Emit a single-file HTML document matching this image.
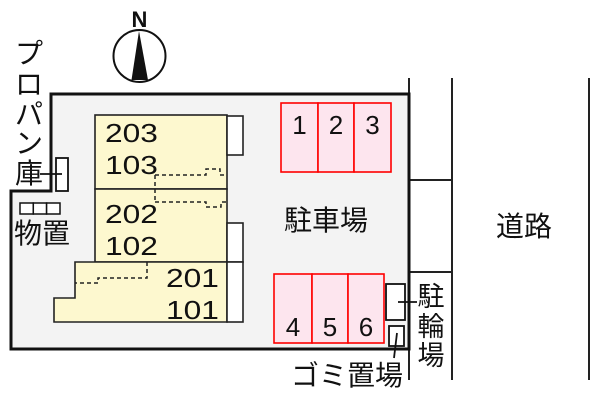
<!DOCTYPE html>
<html><head><meta charset="utf-8">
<style>
html,body{margin:0;padding:0;background:#fff;}
svg{display:block;}
.jp{font-family:"Liberation Sans","Noto Sans CJK JP",sans-serif;font-size:28px;fill:#111;}
.num{font-family:"Liberation Sans",sans-serif;font-size:26px;fill:#111;}
.pn{font-family:"Liberation Sans",sans-serif;font-size:26px;fill:#111;}
</style></head>
<body>
<svg width="600" height="400" viewBox="0 0 600 400" xmlns="http://www.w3.org/2000/svg">
<!-- road lines -->
<g stroke="#222" stroke-width="2" fill="none">
<line x1="409" y1="78" x2="409" y2="380"/>
<line x1="452" y1="78" x2="452" y2="380"/>
<line x1="589" y1="78" x2="589" y2="380"/>
<line x1="409" y1="180" x2="452" y2="180"/>
<line x1="409" y1="272" x2="452" y2="272"/>
</g>
<!-- lot -->
<path d="M409,94 L51,94 L51,191 L11,191 L11,349 L409,349 Z" fill="#f3f3f3" stroke="#111" stroke-width="3"/>
<!-- compass -->
<circle cx="139.5" cy="56" r="26" fill="#fff" stroke="#111" stroke-width="2"/>
<polygon points="139,31 131.5,80 148,80" fill="#111"/>
<text x="139.5" y="27" text-anchor="middle" font-family="Liberation Sans, sans-serif" font-weight="bold" font-size="22" fill="#111">N</text>
<!-- propane -->
<rect x="56" y="158" width="12" height="33" fill="#fff" stroke="#111" stroke-width="1.8"/>
<line x1="40" y1="174" x2="62" y2="174" stroke="#111" stroke-width="1.8"/>
<text class="jp" x="29" y="63" text-anchor="middle">プ</text>
<text class="jp" x="29" y="94" text-anchor="middle">ロ</text>
<text class="jp" x="29" y="124" text-anchor="middle">パ</text>
<text class="jp" x="29" y="153" text-anchor="middle">ン</text>
<text class="jp" x="29" y="183" text-anchor="middle">庫</text>
<!-- storage -->
<g fill="#fff" stroke="#111" stroke-width="1.5">
<rect x="20" y="203" width="13.3" height="11"/>
<rect x="33.3" y="203" width="13.3" height="11"/>
<rect x="46.6" y="203" width="13.4" height="11"/>
</g>
<text class="jp" x="14" y="243">物置</text>
<!-- building -->
<g fill="#fdf8cf" stroke="#222" stroke-width="1.6">
<rect x="95" y="115" width="132" height="74"/>
<rect x="95" y="189" width="132" height="73"/>
<polygon points="75,262 227,262 227,322 54,322 54,298 75,298"/>
</g>
<g fill="#fff" stroke="#222" stroke-width="1.6">
<rect x="227" y="116" width="16" height="39"/>
<rect x="227" y="223" width="16" height="39"/>
<rect x="227" y="262" width="16" height="60"/>
</g>
<g fill="none" stroke="#222" stroke-width="1.5" stroke-dasharray="4 3">
<line x1="155" y1="175" x2="155" y2="203"/>
<polyline points="155,175 206,175 206,169 220,169 220,175 227,175"/>
<polyline points="155,202 206,202 206,207 221,207 221,202 227,202"/>
<polyline points="147,262 147,278 98,278 98,283 75,283"/>
</g>
<text class="num" transform="translate(105,142) scale(1.22,1)">203</text>
<text class="num" transform="translate(105,174) scale(1.22,1)">103</text>
<text class="num" transform="translate(105,223) scale(1.22,1)">202</text>
<text class="num" transform="translate(105,255) scale(1.22,1)">102</text>
<text class="num" transform="translate(166,287) scale(1.22,1)">201</text>
<text class="num" transform="translate(166,319) scale(1.22,1)">101</text>
<!-- parking -->
<g fill="#fde5ee" stroke="#f00" stroke-width="1.6">
<rect x="281" y="103" width="37" height="69"/>
<rect x="318" y="103" width="36" height="69"/>
<rect x="354" y="103" width="37" height="69"/>
<rect x="274" y="274" width="38" height="69"/>
<rect x="312" y="274" width="36" height="69"/>
<rect x="348" y="274" width="36" height="69"/>
</g>
<text class="pn" x="299.5" y="134" text-anchor="middle">1</text>
<text class="pn" x="336" y="134" text-anchor="middle">2</text>
<text class="pn" x="372.5" y="134" text-anchor="middle">3</text>
<text class="pn" x="293" y="336" text-anchor="middle">4</text>
<text class="pn" x="330" y="336" text-anchor="middle">5</text>
<text class="pn" x="366" y="336" text-anchor="middle">6</text>
<text class="jp" x="284" y="230">駐車場</text>
<text class="jp" x="496" y="236">道路</text>
<!-- bike parking -->
<rect x="386" y="284" width="19" height="36" fill="#fff" stroke="#111" stroke-width="1.8"/>
<line x1="398" y1="302" x2="417" y2="302" stroke="#111" stroke-width="1.8"/>
<text class="jp" x="431" y="306" text-anchor="middle" style="font-size:27px">駐</text>
<text class="jp" x="431" y="336" text-anchor="middle" style="font-size:27px">輪</text>
<text class="jp" x="431" y="365" text-anchor="middle" style="font-size:27px">場</text>
<!-- garbage -->
<rect x="389" y="326" width="15" height="20" fill="#fff" stroke="#111" stroke-width="1.8"/>
<line x1="397" y1="333" x2="394" y2="358" stroke="#111" stroke-width="1.8"/>
<text class="jp" x="291" y="385">ゴミ置場</text>
</svg>
</body></html>
